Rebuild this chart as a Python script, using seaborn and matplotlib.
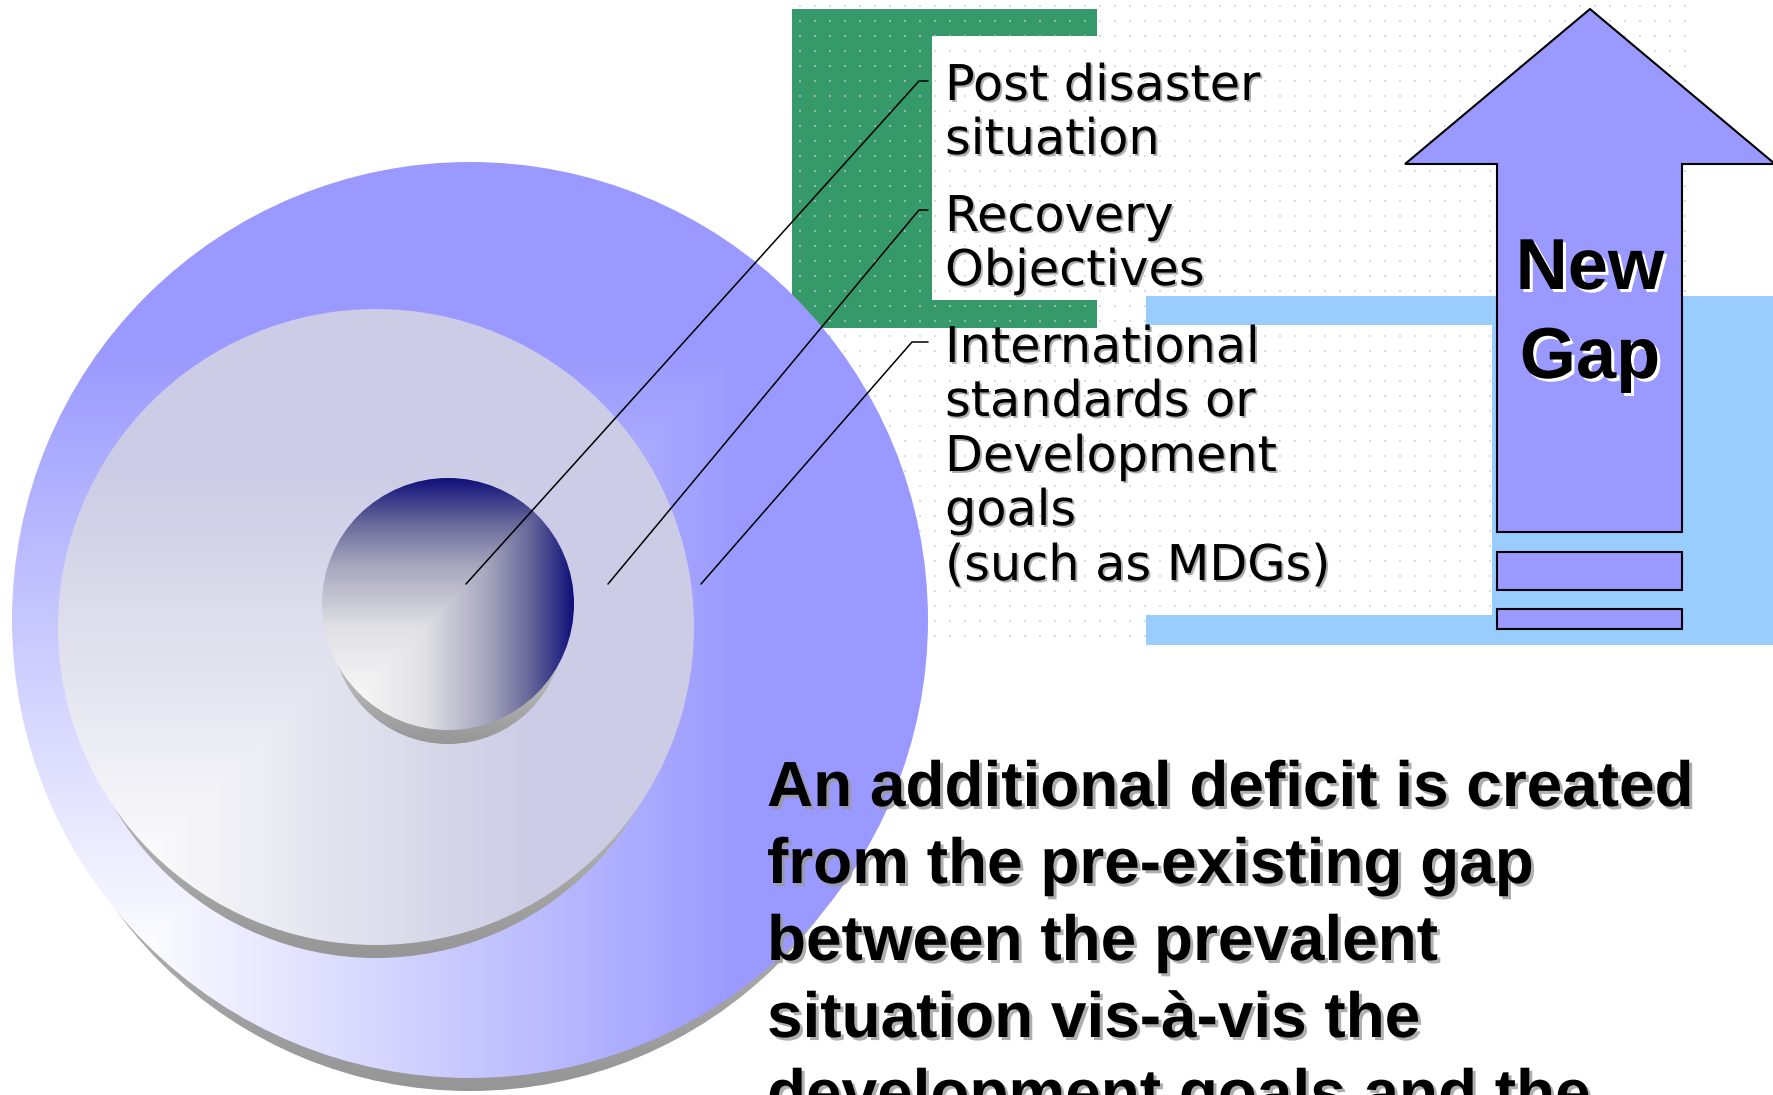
import numpy as np
import matplotlib
matplotlib.use("Agg")
import matplotlib.pyplot as plt
import matplotlib.patheffects as pe
from matplotlib.patches import Circle, Polygon
from matplotlib.colors import LinearSegmentedColormap
import seaborn as sns

# ---- diagram content ----
label_lines = [
    ["Post disaster", "situation"],
    ["Recovery", "Objectives"],
    ["International", "standards or", "Development", "goals", "(such as MDGs)"],
]
gap_title = ["New", "Gap"]
statement_lines = [
    "An additional deficit is created",
    "from the pre-existing gap",
    "between the prevalent",
    "situation vis-à-vis the",
    "development goals and the",
]

sns.set_theme(style="white")
plt.rcParams["font.family"] = ["DejaVu Sans"]

W, H = 1774, 1095
fig = plt.figure(figsize=(W / 100, H / 100), dpi=100)
ax = fig.add_axes([0, 0, 1, 1])
ax.axis("off")

# colour ramps
outer_cmap = sns.blend_palette(["#fbfbff", "#cbcbff", "#9999ff"], as_cmap=True)
middle_cmap = sns.blend_palette(["#fafafc", "#e2e2ee", "#ccccE6"], as_cmap=True)
inner_cmap = LinearSegmentedColormap.from_list(
    "inner", [(0.0, "#f6f6f6"), (0.3, "#e2e2e6"), (0.6, "#a6a6be"),
              (0.8, "#66669a"), (1.0, "#10107a")])
shadow_cmap = sns.blend_palette(["#d4d4d4", "#969696"], as_cmap=True)


def grid(cx, cy, r, n=700):
    xs = np.linspace(cx - r, cx + r, n)
    ys = np.linspace(cy - r, cy + r, n)
    return np.meshgrid(xs, ys)


def disc_image(values, cx, cy, r, cmap, z):
    im = ax.imshow(values, cmap=cmap, vmin=0, vmax=1, aspect="auto",
                   extent=(cx - r, cx + r, cy + r, cy - r), origin="upper",
                   interpolation="bilinear", zorder=z)
    im.set_clip_path(Circle((cx, cy), r, transform=ax.transData))


def gradient_disc(cx, cy, r, cmap, lo, hi, z, drop, shrink):
    # grey rim: a slightly smaller disc pushed down, peeking out at the bottom
    sr, sy = r - shrink, cy + drop
    X, Y = grid(cx, sy, sr)
    s = np.clip((Y - sy) / sr, 0, 1)
    disc_image(s, cx, sy, sr, shadow_cmap, z)
    # corner-lit fill: brightest toward the lower left
    X, Y = grid(cx, cy, r)
    u = (X - (cx - r)) / (2 * r)
    v = ((cy + r) - Y) / (2 * r)
    t = np.clip((np.maximum(u, v) - lo) / (hi - lo), 0, 1)
    disc_image(t, cx, cy, r, cmap, z + 0.5)


# green bracket behind the first two labels
green = Polygon([(1097, 9), (792, 9), (792, 328), (1097, 328), (1097, 300),
                 (932, 300), (932, 36), (1097, 36)], closed=True,
                facecolor="#359969", edgecolor="none", zorder=1)
ax.add_patch(green)

# faint dotted backdrop of the upper right panel
gx, gy = np.meshgrid(np.arange(800, 1690, 15), np.arange(6, 645, 15))
ax.scatter(gx.ravel(), gy.ravel(), s=1.1, marker="s", color="#c4c8e6",
           alpha=0.65, linewidths=0, zorder=2)

# light blue bracket behind the arrow
blue = Polygon([(1146, 296), (1774, 296), (1774, 645), (1146, 645), (1146, 615),
                (1492, 615), (1492, 325), (1146, 325)], closed=True,
               facecolor="#99ccff", edgecolor="none", zorder=3)
ax.add_patch(blue)

# nested rings
gradient_disc(470, 620, 458, outer_cmap, 0.15, 0.80, 4, drop=34, shrink=21)
gradient_disc(376, 627, 318, middle_cmap, 0.15, 0.75, 5, drop=28, shrink=15)
gradient_disc(448, 604, 126, inner_cmap, 0.14, 1.0, 6, drop=24, shrink=10)

# "New Gap" arrow and the two steps beneath it
arrow = Polygon([(1590, 9), (1775, 164), (1682, 164), (1682, 532), (1497, 532),
                 (1497, 164), (1405, 164)], closed=True,
                facecolor="#9999ff", edgecolor="black", linewidth=1.5, zorder=10)
ax.add_patch(arrow)
for y0, y1 in [(552, 590), (609, 629)]:
    ax.add_patch(Polygon([(1497, y0), (1682, y0), (1682, y1), (1497, y1)],
                         closed=True, facecolor="#9999ff", edgecolor="black",
                         linewidth=1.5, zorder=10))

# leader lines from each ring to its label
leaders = [((466, 584), (919, 81)), ((608, 584), (919, 210)), ((701, 584), (912, 342))]
for (x0, y0), (x1, y1) in leaders:
    ax.plot([x0, x1, 928], [y0, y1, y1], color="black", lw=1.1,
            solid_joinstyle="miter", zorder=11)

label_shadow = [pe.withSimplePatchShadow(offset=(1.4, -1.4),
                                         shadow_rgbFace="#8c8c8c", alpha=0.7)]
label_baselines = [[100, 154], [231, 285], [362, 416, 471, 525, 580]]
for lines, bases in zip(label_lines, label_baselines):
    for line, yb in zip(lines, bases):
        ax.text(945, yb, line, fontsize=35.5, color="black", va="baseline",
                ha="left", family="DejaVu Sans", zorder=12,
                path_effects=label_shadow)

gap_shadow = [pe.withSimplePatchShadow(offset=(2.2, -2.2),
                                       shadow_rgbFace="white", alpha=1.0)]
for word, yb in zip(gap_title, [289, 378]):
    ax.text(1590, yb, word, fontsize=52, fontweight="bold", color="black",
            family="Liberation Sans", ha="center", va="baseline", zorder=12,
            path_effects=gap_shadow)

text_shadow = [pe.withSimplePatchShadow(offset=(2.2, -2.2),
                                        shadow_rgbFace="#9a9a9a", alpha=0.8)]
for i, line in enumerate(statement_lines):
    ax.text(767, 806 + 77 * i, line, fontsize=46, fontweight="bold",
            color="black", family="Liberation Sans", ha="left", va="baseline",
            zorder=12, path_effects=text_shadow)

ax.set_xlim(0, W)
ax.set_ylim(H, 0)
fig.savefig("out.png", dpi=100, facecolor="white")
